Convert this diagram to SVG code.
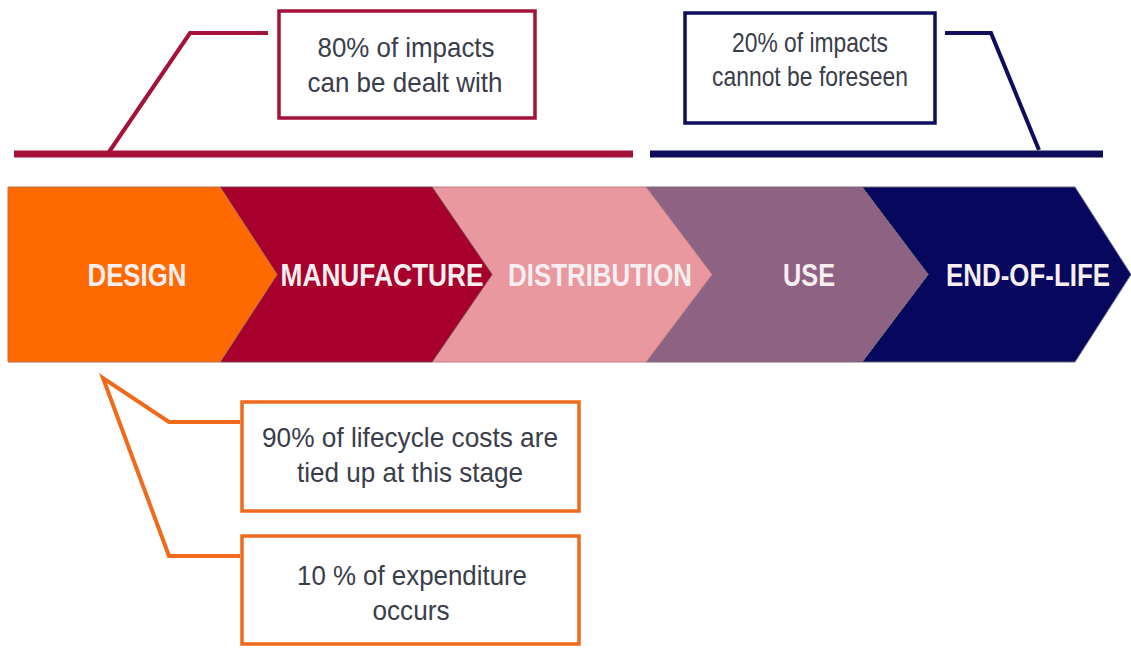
<svg xmlns="http://www.w3.org/2000/svg" width="1131" height="648" viewBox="0 0 1131 648">
<style>
.stage{font-family:"Liberation Sans",Arial,sans-serif;font-weight:bold;font-size:31px;fill:#F6EEF0;text-anchor:middle}
.note{font-family:"Liberation Sans",Arial,sans-serif;font-size:28px;fill:#3a3d4a;text-anchor:middle}
.box{fill:#fff;stroke-width:3.5}
.line{fill:none;stroke-width:4;stroke-linejoin:miter}
</style>
<rect width="1131" height="648" fill="#fff"/>
<g id="connectors">
<line x1="14" y1="154" x2="633" y2="154" stroke="#A4123A" stroke-width="7"/>
<line x1="650" y1="154" x2="1103" y2="154" stroke="#0E0E5C" stroke-width="7"/>
<polyline class="line" stroke="#A4123A" points="268,33 190,33 109,152"/>
<polyline class="line" stroke="#0E0E5C" points="945,33 991,33 1039,150"/>
<polyline class="line" stroke="#F06A1C" points="240,422 169,422 103,378 169,556 240,556"/>
</g>
<g id="eol">
<path d="M862,187 L1075,187 L1131,274.5 L1075,362 L862,362 L928,274.5 Z" fill="#07075E" stroke="#6b6b80" stroke-width="1"/>
<text class="stage" x="1028" y="286" textLength="164" lengthAdjust="spacingAndGlyphs">END-OF-LIFE</text>
</g>
<g id="use">
<path d="M646,187 L862,187 L928,274.5 L862,362 L646,362 L712,274.5 Z" fill="#8E6282" stroke="#7a6a78" stroke-width="1"/>
<text class="stage" x="809" y="286" textLength="52" lengthAdjust="spacingAndGlyphs">USE</text>
</g>
<g id="distribution">
<path d="M432,187 L646,187 L712,274.5 L646,362 L432,362 L492,274.5 Z" fill="#E9989F" stroke="#c08088" stroke-width="1"/>
<text class="stage" x="600" y="286" textLength="184" lengthAdjust="spacingAndGlyphs">DISTRIBUTION</text>
</g>
<g id="manufacture">
<path d="M220,187 L432,187 L492,274.5 L432,362 L220,362 L277,274.5 Z" fill="#A8002C" stroke="#7a4050" stroke-width="1"/>
<text class="stage" x="382" y="286" textLength="203" lengthAdjust="spacingAndGlyphs">MANUFACTURE</text>
</g>
<g id="design">
<path d="M8,187 L220,187 L277,274.5 L220,362 L8,362 Z" fill="#FF6A00" stroke="#b07050" stroke-width="1"/>
<text class="stage" x="137" y="286" textLength="99" lengthAdjust="spacingAndGlyphs">DESIGN</text>
</g>
<g id="note80">
<rect class="box" x="279" y="11" width="256" height="107" stroke="#A4123A"/>
<text class="note" x="406" y="57" textLength="177" lengthAdjust="spacingAndGlyphs">80% of impacts</text>
<text class="note" x="405" y="92" textLength="195" lengthAdjust="spacingAndGlyphs">can be dealt with</text>
</g>
<g id="note20">
<rect class="box" x="685" y="13" width="250" height="110" stroke="#0E0E5C"/>
<text class="note" x="810" y="52" textLength="156" lengthAdjust="spacingAndGlyphs">20% of impacts</text>
<text class="note" x="810" y="86" textLength="196" lengthAdjust="spacingAndGlyphs">cannot be foreseen</text>
</g>
<g id="note90">
<rect class="box" x="242" y="402" width="337" height="109" stroke="#F06A1C"/>
<text class="note" x="410" y="447" textLength="296" lengthAdjust="spacingAndGlyphs">90% of lifecycle costs are</text>
<text class="note" x="410" y="482" textLength="226" lengthAdjust="spacingAndGlyphs">tied up at this stage</text>
</g>
<g id="note10">
<rect class="box" x="242" y="536" width="337" height="108" stroke="#F06A1C"/>
<text class="note" x="412" y="585" textLength="230" lengthAdjust="spacingAndGlyphs">10 % of expenditure</text>
<text class="note" x="411" y="620" textLength="77" lengthAdjust="spacingAndGlyphs">occurs</text>
</g>
</svg>
